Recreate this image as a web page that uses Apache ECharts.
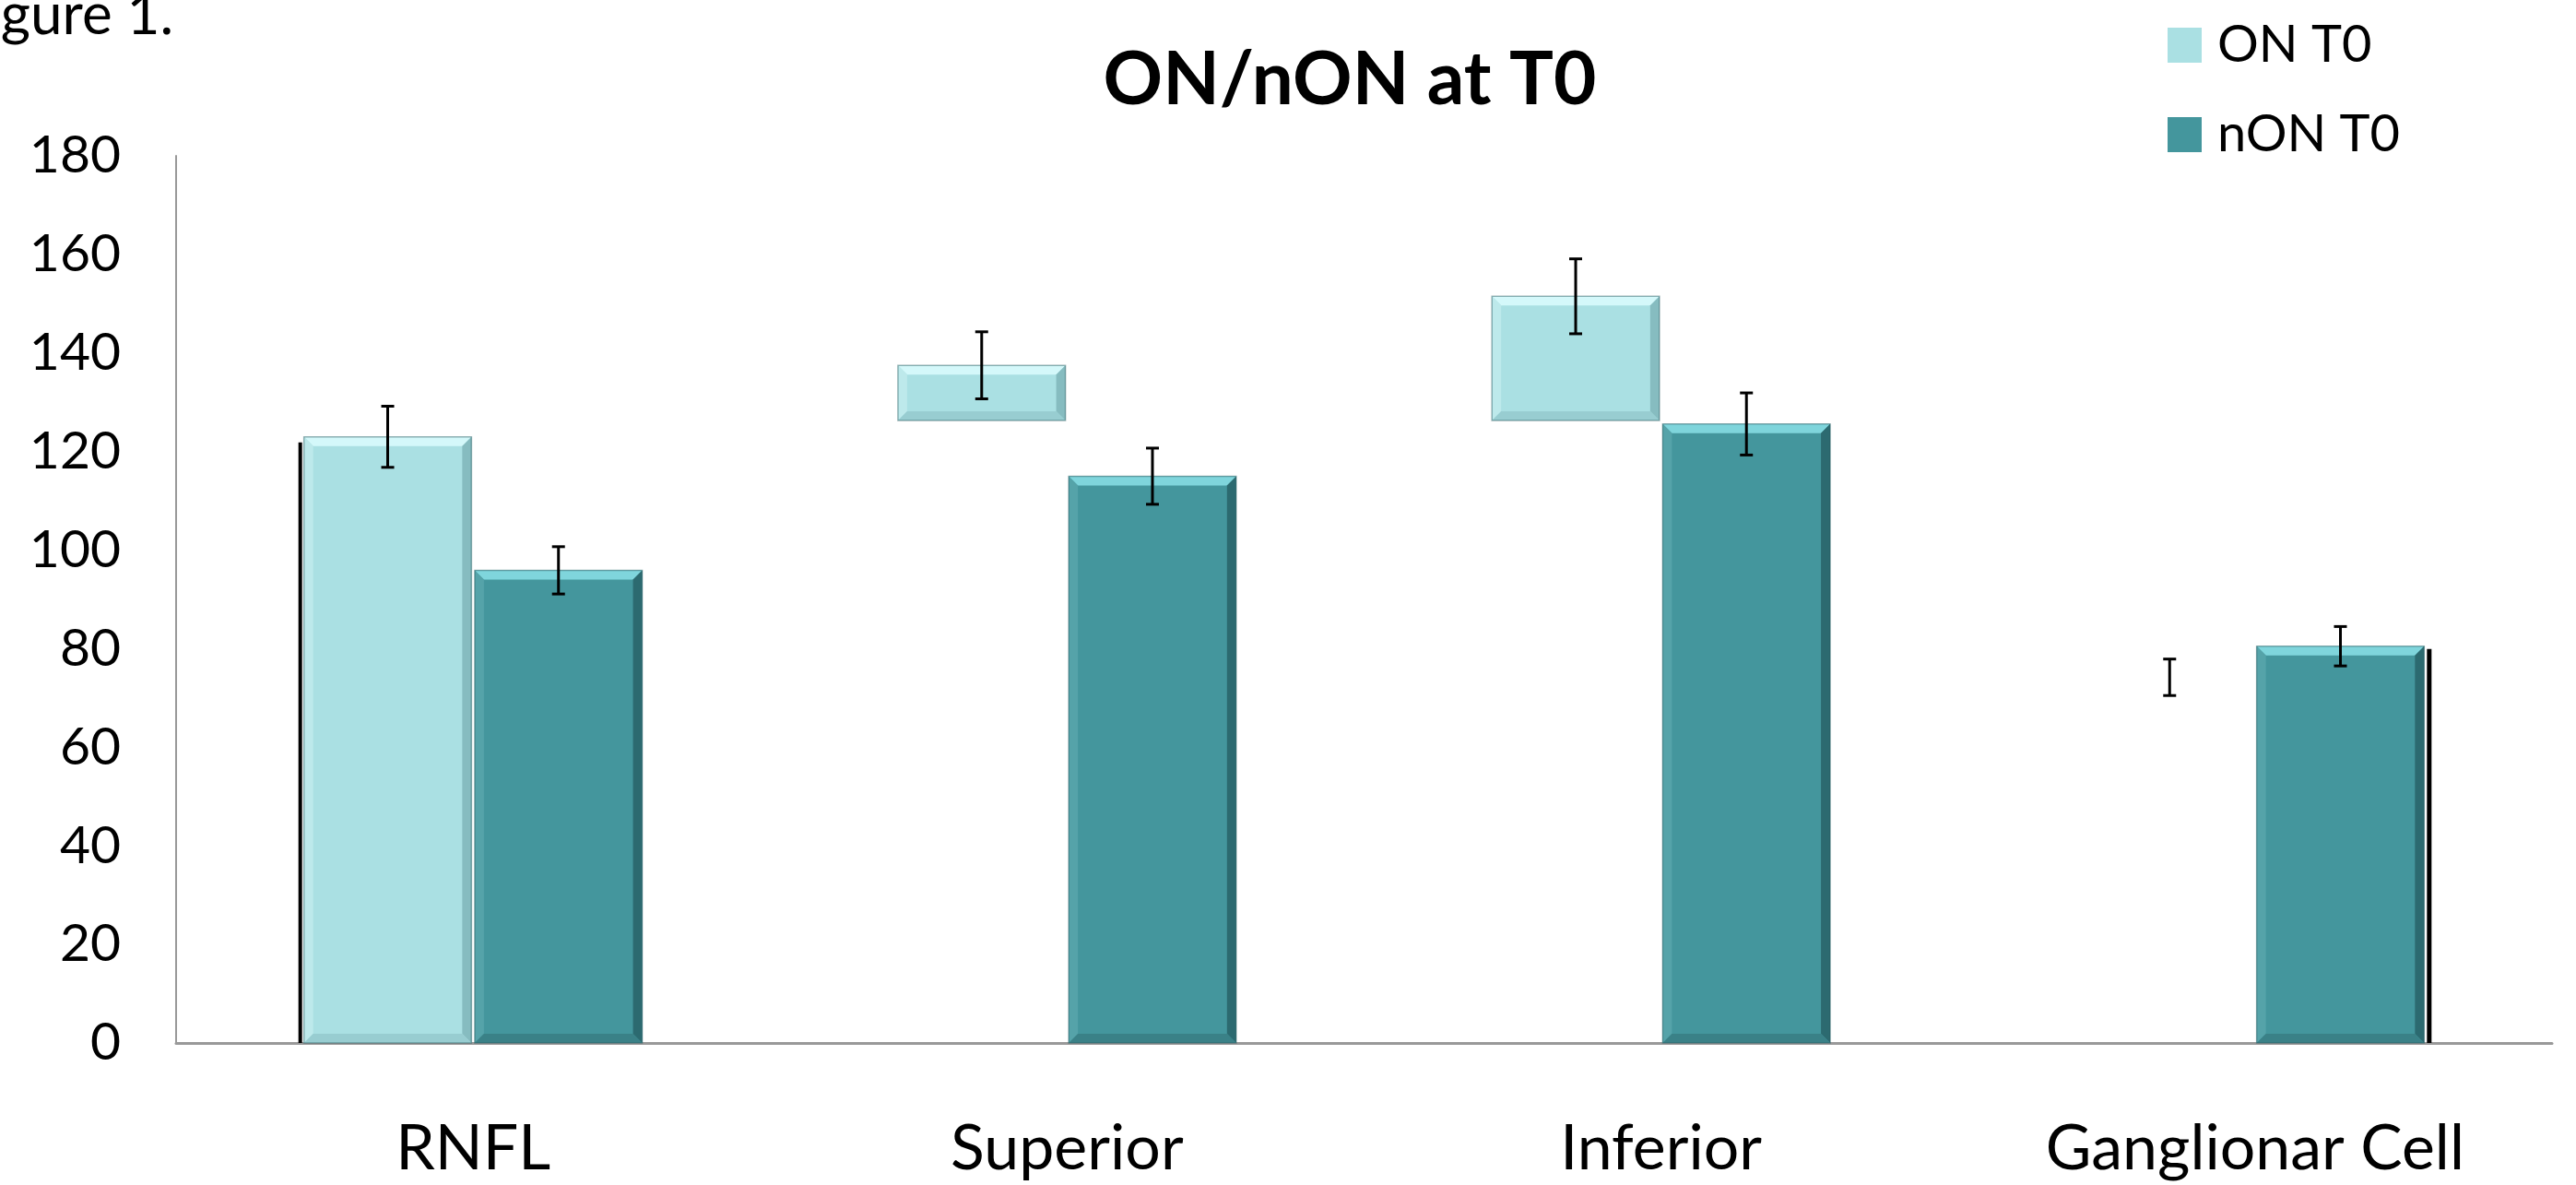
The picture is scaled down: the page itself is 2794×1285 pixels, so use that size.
<!DOCTYPE html>
<html>
<head>
<meta charset="utf-8">
<script src="https://cdn.jsdelivr.net/npm/echarts@6/dist/echarts.min.js"></script>
<style>
  html, body { margin: 0; padding: 0; background: #fff; }
  #chart { width: 2794px; height: 1285px; }
</style>
</head>
<body>
<div id="chart"></div>
<script>
  // 数据
  const categories = ['RNFL', 'Superior', 'Inferior', 'Ganglionar Cell'];
  const onMean = [123, 137.5, 151.5, 74.2];
  const onErr = [6.2, 6.8, 7.6, 3.7];
  // ON T0 bars in the original are drawn from these bottoms (null = bar not drawn)
  const onDrawnBase = [0, 126.3, 126.3, null];
  const nonMean = [95.9, 115, 125.6, 80.5];
  const nonErr = [4.8, 5.7, 6.3, 4];
  const nonDrawnBase = [0, 0, 0, 0];
  const yTicks = [0, 20, 40, 60, 80, 100, 120, 140, 160, 180];

  const FONT = "Lato, 'Open Sans', sans-serif";
  const BAR_RATIO = 0.282;
  const GAP_RATIO = 0.0055;

  const palettes = {
    on: { main: '#aae0e3', top: '#d4f8fa', left: '#bde9eb', right: '#86bcc0', bottom: '#98cdd1' },
    non: { main: '#44969d', top: '#7fd5dc', left: '#55a3a9', right: '#2c6a70', bottom: '#3a8187' }
  };

  function bevelBar(x0, x1, yTop, yBot, pal, b) {
    const h = yBot - yTop;
    const bb = Math.min(b, h / 3, (x1 - x0) / 3);
    return [
      { type: 'rect', shape: { x: x0, y: yTop, width: x1 - x0, height: h }, style: { fill: pal.main } },
      { type: 'polygon', shape: { points: [[x0, yTop], [x1, yTop], [x1 - bb, yTop + bb], [x0 + bb, yTop + bb]] }, style: { fill: pal.top } },
      { type: 'polygon', shape: { points: [[x0, yTop], [x0 + bb, yTop + bb], [x0 + bb, yBot - bb], [x0, yBot]] }, style: { fill: pal.left } },
      { type: 'polygon', shape: { points: [[x1, yTop], [x1, yBot], [x1 - bb, yBot - bb], [x1 - bb, yTop + bb]] }, style: { fill: pal.right } },
      { type: 'polygon', shape: { points: [[x0, yBot], [x0 + bb, yBot - bb], [x1 - bb, yBot - bb], [x1, yBot]] }, style: { fill: pal.bottom } },
      { type: 'rect', shape: { x: x0, y: yTop, width: x1 - x0, height: h }, style: { fill: 'none', stroke: 'rgba(40,90,95,0.45)', lineWidth: 1.5 } }
    ];
  }

  function makeBarRenderer(side, pal) {
    return function (params, api) {
      const base = api.value(2);
      if (base === null || base === undefined || isNaN(base)) return null;
      const i = api.value(0);
      const top = api.coord([i, api.value(1)]);
      const bot = api.coord([i, base]);
      const band = api.size([1, 0])[0];
      const w = band * BAR_RATIO;
      const g = band * GAP_RATIO / 2;
      const x0 = side < 0 ? top[0] - g - w : top[0] + g;
      const x1 = x0 + w;
      const children = bevelBar(x0, x1, top[1], bot[1], pal, 10);
      // 原图中的黑色阴影边
      if (side < 0 && params.dataIndex === 0) {
        children.push({ type: 'rect', shape: { x: x0 - 6, y: top[1] + 6, width: 4, height: bot[1] - top[1] - 6 }, style: { fill: '#000' } });
      }
      if (side > 0 && params.dataIndex === categories.length - 1) {
        children.push({ type: 'rect', shape: { x: x1 + 3, y: top[1] + 3, width: 5, height: bot[1] - top[1] - 3 }, style: { fill: '#000' } });
      }
      return { type: 'group', children: children };
    };
  }

  function makeErrRenderer(side) {
    return function (params, api) {
      const i = api.value(0);
      const m = api.value(1);
      const e = api.value(2);
      const hi = api.coord([i, m + e]);
      const lo = api.coord([i, m - e]);
      const band = api.size([1, 0])[0];
      const w = band * BAR_RATIO;
      const g = band * GAP_RATIO / 2;
      const cx = side < 0 ? hi[0] - g - w / 2 : hi[0] + g + w / 2;
      const cap = 7;
      const st = { stroke: '#000', lineWidth: 3 };
      return {
        type: 'group',
        children: [
          { type: 'line', shape: { x1: cx, y1: hi[1], x2: cx, y2: lo[1] }, style: st },
          { type: 'line', shape: { x1: cx - cap, y1: hi[1], x2: cx + cap, y2: hi[1] }, style: st },
          { type: 'line', shape: { x1: cx - cap, y1: lo[1], x2: cx + cap, y2: lo[1] }, style: st }
        ]
      };
    };
  }

  const onBarData = categories.map((c, i) => [i, onMean[i], onDrawnBase[i]]);
  const nonBarData = categories.map((c, i) => [i, nonMean[i], nonDrawnBase[i]]);
  const onErrData = categories.map((c, i) => [i, onMean[i], onErr[i]]);
  const nonErrData = categories.map((c, i) => [i, nonMean[i], nonErr[i]]);

  const chart = echarts.init(document.getElementById('chart'));
  chart.setOption({
    backgroundColor: '#fff',
    animation: false,
    title: {
      text: 'ON/nON at T0',
      left: 1459,
      textAlign: 'center',
      top: 42,
      textStyle: { fontFamily: FONT, fontWeight: 'bold', fontSize: 80, color: '#000' }
    },
    legend: {
      data: ['ON T0', 'nON T0'],
      orient: 'vertical',
      left: 2346,
      top: 16,
      icon: 'rect',
      itemWidth: 37,
      itemHeight: 38,
      itemGap: 41,
      textStyle: { fontFamily: FONT, fontSize: 56, color: '#000', padding: [0, 0, 0, 12] }
    },
    graphic: [{
      type: 'text',
      left: -49,
      top: -14,
      style: { text: 'Figure 1.', font: '62px ' + FONT, fill: '#000' }
    }],
    grid: { left: 191, right: 26, top: 169, bottom: 154 },
    xAxis: {
      type: 'category',
      data: categories,
      axisLine: { lineStyle: { color: '#999', width: 3 } },
      axisTick: { show: false },
      axisLabel: { interval: 0, fontFamily: FONT, fontSize: 68, color: '#000', margin: 81 }
    },
    yAxis: {
      type: 'value',
      min: yTicks[0],
      max: yTicks[yTicks.length - 1],
      interval: 20,
      axisLine: { show: true, lineStyle: { color: '#999', width: 2 } },
      axisTick: { show: false },
      splitLine: { show: false },
      axisLabel: { fontFamily: FONT, fontSize: 57, color: '#000', margin: 60 }
    },
    series: [
      {
        name: 'ON T0', type: 'custom', renderItem: makeBarRenderer(-1, palettes.on),
        itemStyle: { color: palettes.on.main }, encode: { x: 0, y: 1 }, data: onBarData, z: 2
      },
      {
        name: 'nON T0', type: 'custom', renderItem: makeBarRenderer(1, palettes.non),
        itemStyle: { color: palettes.non.main }, encode: { x: 0, y: 1 }, data: nonBarData, z: 2
      },
      {
        name: 'ON T0 err', type: 'custom', renderItem: makeErrRenderer(-1),
        encode: { x: 0, y: 1 }, data: onErrData, z: 5
      },
      {
        name: 'nON T0 err', type: 'custom', renderItem: makeErrRenderer(1),
        encode: { x: 0, y: 1 }, data: nonErrData, z: 5
      }
    ]
  });
</script>
</body>
</html>
